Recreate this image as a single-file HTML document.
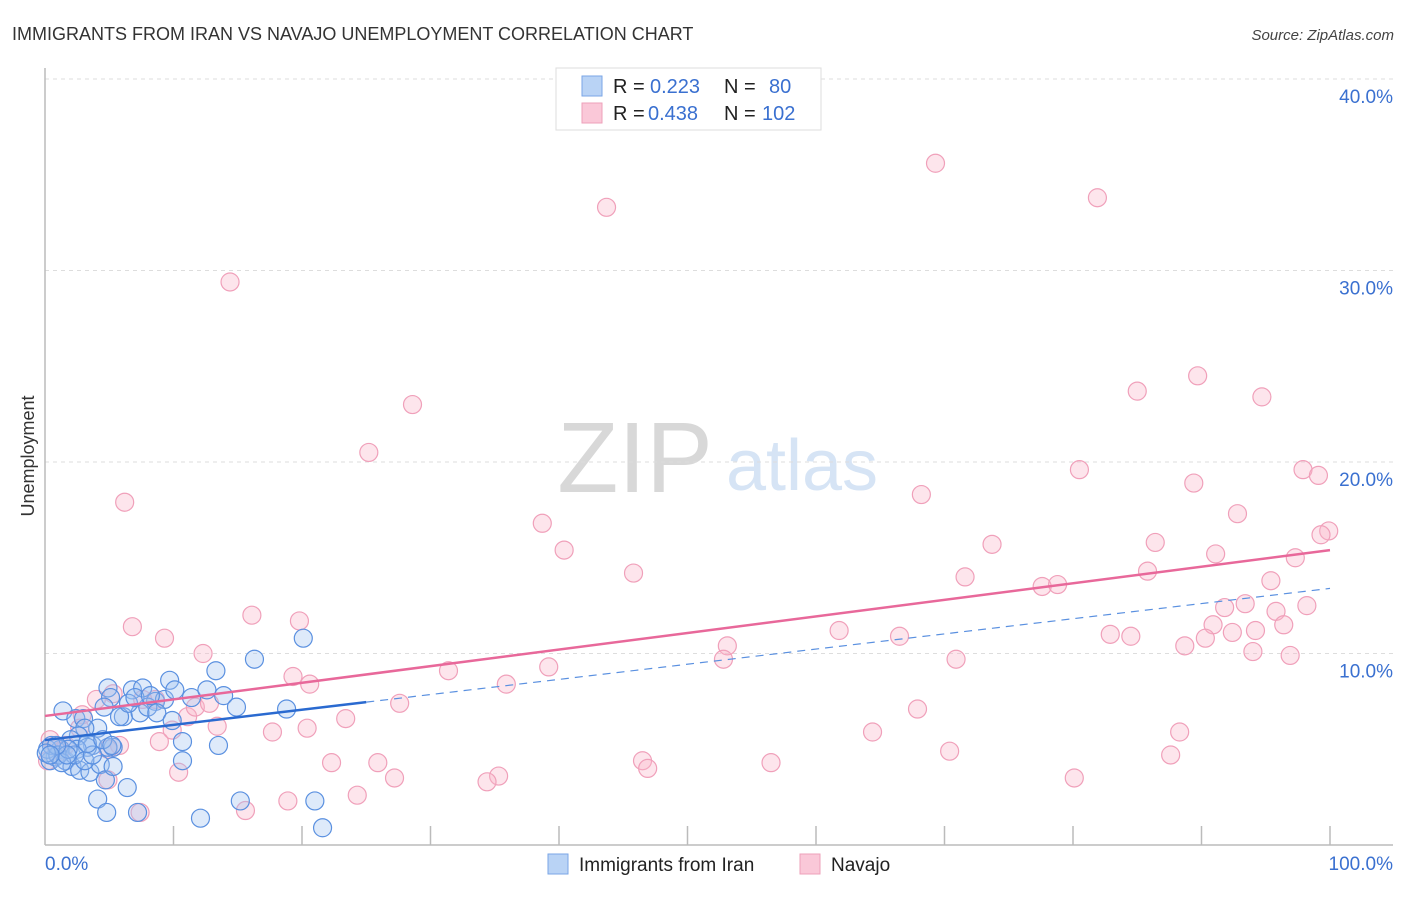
<!DOCTYPE html>
<html><head><meta charset="utf-8"><style>
body{margin:0;background:#fff;font-family:"Liberation Sans",sans-serif;}
svg text{font-family:"Liberation Sans",sans-serif;}
</style></head><body>
<svg id="chart" width="1406" height="892" xmlns="http://www.w3.org/2000/svg">
<text x="12" y="40" font-size="18" fill="#333">IMMIGRANTS FROM IRAN VS NAVAJO UNEMPLOYMENT CORRELATION CHART</text>
<text x="1394" y="40" font-size="15" fill="#444" font-style="italic" text-anchor="end">Source: ZipAtlas.com</text>
<text x="635" y="492" font-size="100" fill="#d8d8d8" font-family="Liberation Serif" text-anchor="middle">ZIP</text>
<text x="802" y="490" font-size="72" fill="#d6e4f5" text-anchor="middle">atlas</text>
<text x="34" y="456" font-size="18" fill="#333" text-anchor="middle" transform="rotate(-90 34 456)">Unemployment</text>
<g id="grid"></g><g id="axes"></g><g id="pts"></g><g id="lines"></g>
<g>
<rect x="556" y="68" width="265" height="62" fill="#fff" stroke="#ddd"/>
<rect x="582" y="76" width="20" height="20" fill="#b9d3f5" stroke="#7aa6e6"/>
<rect x="582" y="103" width="20" height="20" fill="#fac8d8" stroke="#eea0ba"/>
<text x="613" y="93" font-size="20" fill="#222">R =</text>
<text x="650" y="93" font-size="20" fill="#3a70d0">0.223</text>
<text x="724" y="93" font-size="20" fill="#222">N =</text>
<text x="769" y="93" font-size="20" fill="#3a70d0">80</text>
<text x="613" y="120" font-size="20" fill="#222">R =</text>
<text x="648" y="120" font-size="20" fill="#3a70d0">0.438</text>
<text x="724" y="120" font-size="20" fill="#222">N =</text>
<text x="762" y="120" font-size="20" fill="#3a70d0">102</text>
</g>
<g>
<rect x="548" y="854" width="20" height="20" fill="#b9d3f5" stroke="#7aa6e6"/>
<text x="579" y="871" font-size="19" fill="#222">Immigrants from Iran</text>
<rect x="800" y="854" width="20" height="20" fill="#fac8d8" stroke="#eea0ba"/>
<text x="831" y="871" font-size="19" fill="#222">Navajo</text>
</g>
</svg>
<script>
const yTicks=[10,20,30,40];
const yTickLabels=["10.0%","20.0%","30.0%","40.0%"];
const xTickLabels=["0.0%","100.0%"];
const iranX=[1.4,2.4,3,4.9,5.1,6.1,6.8,7.6,8.6,9.3,9.7,10.1,11.4,12.6,13.3,13.9,14.9,16.3,18.8,20.1,7.4,8,8.7,4.6,4.1,3.7,3.1,2.6,2,1.2,0.8,0.4,0.2,0.5,1,1.6,2.1,2.7,3.5,4.3,4.7,5.3,6.4,4.1,4.8,7.2,12.1,15.2,21,21.6,10.7,10.7,13.5,9.9,5.3,4.9,3.3,2.5,2.3,1.3,1.8,3.1,3.7,1.7,0.9,0.1,0.4,3.3,4.5,5.2,5.8,6.5,7,8.2];
const iranY=[7,6.6,6.6,8.2,7.7,6.7,8.1,8.2,7.5,7.6,8.6,8.1,7.7,8.1,9.1,7.8,7.2,9.7,7.1,10.8,6.9,7.2,6.9,7.2,6.1,5.2,6.1,5.7,5.5,5,4.6,4.4,5,5.2,4.7,4.4,4.1,3.9,3.8,4.2,3.4,4.1,3,2.4,1.7,1.7,1.4,2.3,2.3,0.9,5.4,4.4,5.2,6.5,5.1,5.1,5.1,5,4.7,4.3,5,4.4,4.7,4.7,5.2,4.8,4.7,5.3,5.5,5.2,6.7,7.4,7.7,7.8];
const navX=[43.7,69.3,81.9,14.4,28.6,25.2,6.2,38.7,40.4,45.8,85,89.7,94.7,80.5,97.9,99.1,68.2,89.4,92.8,73.7,86.4,91.1,99.9,99.3,97.3,71.6,85.8,95.4,77.6,78.8,93.4,91.8,98.2,95.8,90.9,96.4,94.2,82.9,84.5,92.4,90.3,88.7,94,96.9,61.8,66.5,53.1,52.8,70.9,39.2,31.4,35.9,16.1,19.8,6.8,9.3,12.3,19.3,20.6,27.6,23.4,17.7,20.4,13.4,11.1,11.7,12.8,5.3,4,8.6,7.6,9.9,8.9,2.9,2.7,5.8,4.9,1.6,0.8,0.4,1.2,0.2,64.4,67.9,70.4,88.3,87.6,80.1,56.5,46.5,46.9,35.3,34.4,27.2,22.3,25.9,24.3,18.9,15.6,7.4,10.4,4.9];
const navY=[33.3,35.6,33.8,29.4,23,20.5,17.9,16.8,15.4,14.2,23.7,24.5,23.4,19.6,19.6,19.3,18.3,18.9,17.3,15.7,15.8,15.2,16.4,16.2,15,14,14.3,13.8,13.5,13.6,12.6,12.4,12.5,12.2,11.5,11.5,11.2,11,10.9,11.1,10.8,10.4,10.1,9.9,11.2,10.9,10.4,9.7,9.7,9.3,9.1,8.4,12,11.7,11.4,10.8,10,8.8,8.4,7.4,6.6,5.9,6.1,6.2,6.7,7.2,7.4,7.9,7.6,7.6,7.6,6,5.4,6.8,6.1,5.2,5,5.2,5.2,5.5,4.9,4.4,5.9,7.1,4.9,5.9,4.7,3.5,4.3,4.4,4,3.6,3.3,3.5,4.3,4.3,2.6,2.3,1.8,1.7,3.8,3.4];
const iranFit=[5.48,13.4], iranSolidEnd=25;
const navFit=[6.74,15.4];
const X=v=>45+v*12.85, Y=v=>845-v*19.15;
const NS="http://www.w3.org/2000/svg";
function mk(tag,attrs,parent){const e=document.createElementNS(NS,tag);for(const k in attrs)e.setAttribute(k,attrs[k]);document.getElementById(parent).appendChild(e);return e;}
yTicks.forEach((t,i)=>{
 const g=mk('line',{x1:45,x2:1393,y1:Y(t),y2:Y(t),stroke:'#ddd','stroke-dasharray':'4,4'},'grid');
 
 
 const l=mk('text',{x:1393,y:Y(t)+24,'font-size':19,fill:'#3a70d0','text-anchor':'end'},'grid');
 l.textContent=yTickLabels[i];
 
 
});
const ax=mk('line',{x1:45,x2:45,y1:68,y2:845,stroke:'#bbb','stroke-width':1.5},'axes');


const bx=mk('line',{x1:45,x2:1393,y1:845,y2:845,stroke:'#bbb','stroke-width':1.5},'axes');


for(let i=1;i<=10;i++){const t=mk('line',{x1:X(i*10),x2:X(i*10),y1:826,y2:845,stroke:'#bbb','stroke-width':1.5},'axes');
 
 }
[[0,'start',45],[100,'end',1393]].forEach((d,i)=>{const t=mk('text',{x:d[2],y:870,'font-size':19,fill:'#3a70d0','text-anchor':d[1]},'axes');t.textContent=xTickLabels[i];
 
 });
navX.forEach((v,i)=>{const c=mk('circle',{cx:X(v),cy:Y(navY[i]),r:9,fill:'rgba(248,180,200,0.35)',stroke:'#f0a0ba','stroke-width':1.2},'pts');
 
 });
iranX.forEach((v,i)=>{const c=mk('circle',{cx:X(v),cy:Y(iranY[i]),r:9,fill:'rgba(160,195,240,0.35)',stroke:'#5a90e0','stroke-width':1.2},'pts');
 
 });
const f=(a,x)=>a[0]+(a[1]-a[0])*x/100;
const l1=mk('line',{x1:X(0),y1:Y(f(navFit,0)),x2:X(100),y2:Y(f(navFit,100)),stroke:'#e8689a','stroke-width':2.5},'lines');


const l2=mk('line',{x1:X(0),y1:Y(f(iranFit,0)),x2:X(iranSolidEnd),y2:Y(f(iranFit,iranSolidEnd)),stroke:'#2a6ad0','stroke-width':2.5},'lines');


const l3=mk('line',{x1:X(iranSolidEnd),y1:Y(f(iranFit,iranSolidEnd)),x2:X(100),y2:Y(f(iranFit,100)),stroke:'#5a90e0','stroke-width':1.2,'stroke-dasharray':'8,6'},'lines');


</script>
</body></html>
